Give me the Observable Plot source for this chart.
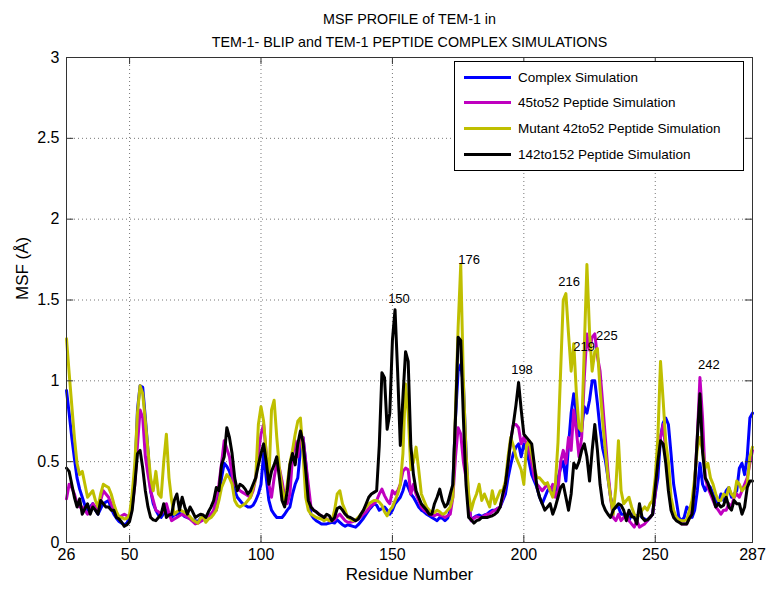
<!DOCTYPE html>
<html>
<head>
<meta charset="utf-8">
<script src="https://cdn.jsdelivr.net/npm/d3@7"></script>
<script src="https://cdn.jsdelivr.net/npm/@observablehq/plot@0.6"></script>
<style>
  html, body { margin: 0; padding: 0; background: #fff; }
  #wrap { position: relative; width: 766px; height: 591px; font-family: "Liberation Sans", Arial, Helvetica, sans-serif; }
  #legend { position: absolute; left: 454px; top: 61px; width: 290px; height: 110px; box-sizing: border-box;
            border: 1px solid #000; background: #fff; font-size: 13.5px; color: #000; }
  .row { position: absolute; left: 0; height: 20px; display: flex; align-items: center; }
  .sw { width: 47px; height: 3px; margin-left: 9px; margin-right: 7px; }
</style>
</head>
<body>
<div id="wrap"><div id="chart"></div><div id="legend"></div></div>
<script>
// ---------------- data ----------------
const titleLines = ["MSF PROFILE of TEM-1 in", "TEM-1- BLIP and TEM-1 PEPTIDE COMPLEX SIMULATIONS"];
const xLabel = "Residue Number";
const yLabel = "MSF (\u00C5)";
const residueStart = 26, residueEnd = 287;
const residues = d3.range(residueStart, residueEnd + 1);
const xTicks = [26, 50, 100, 150, 200, 250, 287];
const yTicks = [0, 0.5, 1, 1.5, 2, 2.5, 3];
const seriesNames = ["Complex Simulation", "45to52 Peptide Simulation", "Mutant 42to52 Peptide Simulation", "142to152 Peptide Simulation"];
const seriesColors = ["#0000ff", "#bf00bf", "#bfbf00", "#000000"];

const complexSim = [
  0.94,0.80,0.65,0.52,0.40,0.33,0.28,0.23,0.20,0.22,
  0.24,0.20,0.175,0.21,0.24,0.25,0.26,0.21,0.175,0.15,
  0.13,0.12,0.11,0.12,0.155,0.26,0.40,0.82,0.97,0.96,
  0.77,0.57,0.32,0.24,0.20,0.17,0.155,0.18,0.20,0.17,
  0.155,0.17,0.175,0.18,0.175,0.16,0.155,0.15,0.14,0.135,
  0.13,0.15,0.16,0.155,0.165,0.175,0.19,0.20,0.30,0.40,
  0.49,0.47,0.44,0.38,0.32,0.28,0.26,0.24,0.23,0.22,
  0.22,0.23,0.26,0.30,0.36,0.55,0.40,0.26,0.20,0.175,
  0.155,0.155,0.155,0.175,0.20,0.22,0.30,0.36,0.40,0.57,
  0.65,0.50,0.30,0.175,0.15,0.135,0.125,0.115,0.115,0.115,
  0.12,0.125,0.12,0.14,0.125,0.11,0.10,0.11,0.105,0.10,
  0.095,0.11,0.13,0.15,0.175,0.20,0.22,0.24,0.23,0.20,
  0.21,0.22,0.20,0.175,0.20,0.24,0.26,0.28,0.32,0.38,
  0.34,0.30,0.28,0.25,0.22,0.20,0.19,0.175,0.165,0.155,
  0.145,0.135,0.155,0.15,0.135,0.15,0.20,0.36,0.77,1.06,
  1.10,0.98,0.57,0.24,0.135,0.155,0.165,0.17,0.16,0.17,
  0.175,0.19,0.20,0.20,0.21,0.22,0.26,0.30,0.40,0.48,
  0.55,0.59,0.61,0.53,0.61,0.57,0.50,0.42,0.38,0.34,
  0.28,0.24,0.28,0.32,0.34,0.30,0.32,0.40,0.46,0.50,
  0.38,0.60,0.80,0.92,0.80,0.66,0.70,0.84,0.80,0.88,
  1.00,1.00,0.86,0.70,0.58,0.51,0.40,0.28,0.20,0.22,
  0.22,0.175,0.175,0.155,0.135,0.175,0.155,0.165,0.175,0.155,
  0.145,0.135,0.155,0.175,0.30,0.40,0.65,0.74,0.77,0.73,
  0.55,0.36,0.26,0.155,0.135,0.155,0.22,0.20,0.155,0.20,
  0.32,0.49,0.36,0.32,0.36,0.34,0.30,0.26,0.24,0.30,
  0.26,0.32,0.34,0.28,0.30,0.32,0.46,0.49,0.42,0.53,
  0.77,0.80
];
const peptide45to52 = [
  0.27,0.36,0.34,0.30,0.24,0.22,0.22,0.20,0.175,0.20,
  0.24,0.22,0.20,0.26,0.32,0.30,0.28,0.24,0.20,0.17,
  0.155,0.165,0.175,0.165,0.155,0.22,0.36,0.60,0.82,0.77,
  0.53,0.42,0.32,0.26,0.20,0.19,0.175,0.20,0.24,0.18,
  0.135,0.145,0.155,0.165,0.175,0.165,0.155,0.145,0.13,0.115,
  0.12,0.13,0.14,0.155,0.165,0.175,0.20,0.28,0.36,0.49,
  0.63,0.58,0.53,0.42,0.36,0.34,0.32,0.31,0.30,0.29,
  0.28,0.32,0.40,0.55,0.67,0.73,0.55,0.36,0.28,0.40,
  0.49,0.46,0.38,0.28,0.24,0.30,0.53,0.63,0.53,0.65,
  0.65,0.50,0.36,0.22,0.20,0.19,0.175,0.165,0.155,0.145,
  0.135,0.135,0.14,0.16,0.175,0.155,0.135,0.125,0.125,0.13,
  0.135,0.145,0.16,0.175,0.19,0.21,0.23,0.24,0.26,0.30,
  0.33,0.29,0.26,0.24,0.32,0.30,0.32,0.36,0.44,0.46,
  0.45,0.30,0.36,0.30,0.26,0.22,0.20,0.19,0.175,0.17,
  0.165,0.175,0.17,0.165,0.155,0.165,0.175,0.28,0.53,0.71,
  0.67,0.50,0.40,0.24,0.135,0.15,0.16,0.155,0.155,0.165,
  0.175,0.175,0.19,0.20,0.21,0.22,0.28,0.36,0.49,0.63,
  0.73,0.73,0.71,0.61,0.65,0.61,0.57,0.49,0.40,0.36,
  0.34,0.32,0.34,0.36,0.32,0.36,0.28,0.32,0.50,0.57,
  0.49,0.65,0.57,0.82,0.69,0.53,0.65,1.02,1.29,1.19,
  1.27,1.29,1.15,1.06,0.86,0.65,0.44,0.28,0.155,0.135,
  0.175,0.135,0.155,0.175,0.135,0.115,0.095,0.135,0.095,0.105,
  0.115,0.135,0.155,0.175,0.30,0.53,0.65,0.73,0.57,0.40,
  0.24,0.175,0.155,0.135,0.115,0.115,0.115,0.155,0.20,0.36,
  0.65,1.02,0.77,0.40,0.34,0.30,0.26,0.22,0.20,0.175,
  0.20,0.20,0.24,0.22,0.28,0.30,0.28,0.32,0.36,0.40,
  0.49,0.57
];
const mutant42to52 = [
  1.26,1.05,0.85,0.65,0.49,0.42,0.44,0.36,0.28,0.30,
  0.32,0.26,0.22,0.30,0.36,0.35,0.34,0.30,0.24,0.19,
  0.16,0.155,0.145,0.15,0.175,0.30,0.49,0.80,0.97,0.92,
  0.75,0.57,0.40,0.32,0.44,0.30,0.28,0.50,0.67,0.40,
  0.26,0.175,0.19,0.20,0.195,0.185,0.175,0.16,0.14,0.13,
  0.12,0.15,0.16,0.125,0.145,0.155,0.175,0.20,0.26,0.34,
  0.38,0.42,0.40,0.36,0.26,0.23,0.22,0.23,0.24,0.26,
  0.28,0.34,0.40,0.73,0.84,0.75,0.55,0.38,0.82,0.88,
  0.65,0.46,0.34,0.24,0.36,0.49,0.57,0.67,0.75,0.77,
  0.55,0.28,0.20,0.175,0.165,0.155,0.15,0.145,0.135,0.145,
  0.135,0.135,0.20,0.30,0.32,0.24,0.20,0.155,0.145,0.135,
  0.14,0.155,0.175,0.20,0.22,0.24,0.25,0.26,0.26,0.25,
  0.23,0.19,0.165,0.20,0.22,0.26,0.30,0.36,0.55,0.98,
  0.80,0.45,0.50,0.59,0.45,0.30,0.26,0.22,0.20,0.19,
  0.185,0.20,0.19,0.175,0.18,0.20,0.22,0.28,0.82,1.33,
  1.72,1.00,0.55,0.30,0.20,0.26,0.30,0.36,0.26,0.30,
  0.26,0.22,0.32,0.24,0.28,0.32,0.32,0.38,0.53,0.65,
  0.60,0.53,0.49,0.45,0.36,0.60,0.63,0.55,0.46,0.40,
  0.40,0.38,0.36,0.37,0.32,0.28,0.36,0.62,1.06,1.50,
  1.54,1.29,1.06,1.23,0.92,0.71,0.69,1.20,1.72,1.30,
  1.06,1.18,1.20,0.95,0.75,0.57,0.40,0.28,0.175,0.34,
  0.63,0.32,0.24,0.26,0.28,0.22,0.175,0.155,0.175,0.20,
  0.22,0.20,0.24,0.26,0.40,0.65,1.12,0.88,0.62,0.50,
  0.28,0.20,0.155,0.14,0.135,0.135,0.14,0.20,0.26,0.40,
  0.58,0.65,0.57,0.46,0.49,0.40,0.36,0.30,0.26,0.26,
  0.30,0.28,0.34,0.30,0.28,0.38,0.36,0.32,0.34,0.36,
  0.53,0.59
];
const peptide142to152 = [
  0.46,0.44,0.36,0.28,0.22,0.27,0.175,0.21,0.24,0.175,
  0.22,0.20,0.175,0.26,0.24,0.22,0.22,0.20,0.20,0.155,
  0.145,0.125,0.10,0.11,0.13,0.20,0.36,0.55,0.57,0.46,
  0.32,0.22,0.155,0.14,0.135,0.155,0.175,0.24,0.155,0.17,
  0.175,0.26,0.30,0.20,0.28,0.22,0.175,0.22,0.19,0.155,
  0.165,0.175,0.17,0.155,0.19,0.22,0.26,0.34,0.32,0.48,
  0.53,0.71,0.65,0.55,0.40,0.32,0.36,0.35,0.33,0.30,
  0.32,0.36,0.40,0.48,0.55,0.61,0.50,0.36,0.44,0.48,
  0.53,0.40,0.26,0.22,0.32,0.48,0.55,0.48,0.61,0.69,
  0.62,0.45,0.26,0.22,0.20,0.19,0.175,0.165,0.155,0.175,
  0.165,0.135,0.155,0.21,0.22,0.20,0.175,0.16,0.155,0.145,
  0.135,0.145,0.175,0.20,0.24,0.28,0.30,0.31,0.32,0.60,
  1.05,1.02,0.70,0.80,1.25,1.44,1.05,0.60,0.90,1.18,
  1.12,0.60,0.42,0.32,0.28,0.24,0.22,0.20,0.175,0.175,
  0.24,0.28,0.33,0.26,0.22,0.24,0.30,0.36,0.77,1.27,
  1.25,0.77,0.36,0.155,0.14,0.12,0.135,0.14,0.155,0.155,
  0.155,0.16,0.165,0.175,0.19,0.22,0.30,0.36,0.49,0.63,
  0.73,0.85,0.99,0.82,0.67,0.65,0.63,0.61,0.48,0.34,
  0.28,0.24,0.20,0.22,0.24,0.175,0.22,0.28,0.34,0.36,
  0.28,0.20,0.30,0.49,0.46,0.50,0.57,0.61,0.53,0.38,
  0.57,0.73,0.57,0.36,0.24,0.20,0.175,0.155,0.20,0.22,
  0.24,0.23,0.20,0.135,0.20,0.16,0.155,0.115,0.24,0.155,
  0.135,0.14,0.155,0.175,0.34,0.50,0.63,0.61,0.49,0.32,
  0.20,0.155,0.135,0.125,0.115,0.115,0.115,0.15,0.175,0.36,
  0.65,0.92,0.56,0.40,0.37,0.32,0.28,0.22,0.24,0.22,
  0.23,0.28,0.22,0.20,0.26,0.24,0.24,0.175,0.22,0.34,
  0.38,0.38
];

// peak annotations (text, residue, MSF)
const annoText = ["150", "176", "198", "216", "219", "225", "242"];
const annoResidue = [152.5, 179.2, 199.3, 217.2, 222.9, 231.6, 270.4];
const annoMSF = [1.505, 1.75, 1.065, 1.615, 1.21, 1.28, 1.10];

// ---------------- build ----------------
const allSeries = [complexSim, peptide45to52, mutant42to52, peptide142to152];
const seriesRows = allSeries.map((vals, k) => vals.map((v, i) => ({r: residues[i], v, name: seriesNames[k]})));
const annoRows = annoText.map((t, i) => ({t, r: annoResidue[i], v: annoMSF[i]}));

const font = '"Liberation Sans", Arial, Helvetica, sans-serif';
const xSpan = residueEnd - residueStart;
const ySpan = yTicks[yTicks.length - 1] - yTicks[0];
const tx = xSpan * 0.0105, ty = ySpan * 0.0145; // inward tick lengths in data units
const yMax = yTicks[yTicks.length - 1];

const chart = Plot.plot({
  width: 766,
  height: 591,
  marginTop: 57,
  marginBottom: 49,
  marginLeft: 66,
  marginRight: 14,
  style: {fontFamily: font, background: "#fff"},
  x: {domain: [residueStart, residueEnd]},
  y: {domain: [0, yMax]},
  marks: [
    // dotted grid
    Plot.ruleX(xTicks.filter(d => d > residueStart && d < residueEnd), {stroke: "#777", strokeDasharray: "1,3", strokeWidth: 1}),
    Plot.ruleY(yTicks.filter(d => d > 0 && d < yMax), {stroke: "#777", strokeDasharray: "1,3", strokeWidth: 1}),
    // data lines
    ...seriesRows.map((rows, k) => Plot.line(rows, {x: "r", y: "v", stroke: seriesColors[k], strokeWidth: 3, strokeLinejoin: "round", strokeLinecap: "round"})),
    // inward ticks
    Plot.ruleX(xTicks, {y1: 0, y2: ty, stroke: "#333"}),
    Plot.ruleX(xTicks, {y1: yMax - ty, y2: yMax, stroke: "#333"}),
    Plot.ruleY(yTicks, {x1: residueStart, x2: residueStart + tx, stroke: "#333"}),
    Plot.ruleY(yTicks, {x1: residueEnd - tx, x2: residueEnd, stroke: "#333"}),
    Plot.frame({stroke: "#333", strokeWidth: 1}),
    // axes
    Plot.axisX(xTicks, {tickSize: 0, tickPadding: 6, fontSize: 16, label: null, tickFormat: d => String(d)}),
    Plot.axisY(yTicks, {tickSize: 0, tickPadding: 7, fontSize: 16, label: null, tickFormat: d => String(d)}),
    // annotations
    Plot.text(annoRows, {x: "r", y: "v", text: "t", fontSize: 13, fill: "#000"}),
    // titles and axis labels
    Plot.text([titleLines[0]], {frameAnchor: "top", dy: -44, text: d => d, fontSize: 14.3, fill: "#000"}),
    Plot.text([titleLines[1]], {frameAnchor: "top", dy: -21, text: d => d, fontSize: 14.3, fill: "#000"}),
    Plot.text([xLabel], {frameAnchor: "bottom", dy: 37, text: d => d, fontSize: 17, fill: "#000"}),
    Plot.text([yLabel], {frameAnchor: "left", dx: -44, rotate: -90, text: d => d, fontSize: 17, fill: "#000"})
  ]
});
document.getElementById("chart").appendChild(chart);

// legend
const legend = document.getElementById("legend");
seriesNames.forEach((name, k) => {
  const row = document.createElement("div");
  row.className = "row";
  row.style.top = (5 + k * 25.7) + "px";
  const sw = document.createElement("div");
  sw.className = "sw";
  sw.style.background = seriesColors[k];
  const label = document.createElement("span");
  label.textContent = name;
  row.appendChild(sw);
  row.appendChild(label);
  legend.appendChild(row);
});
</script>
</body>
</html>
